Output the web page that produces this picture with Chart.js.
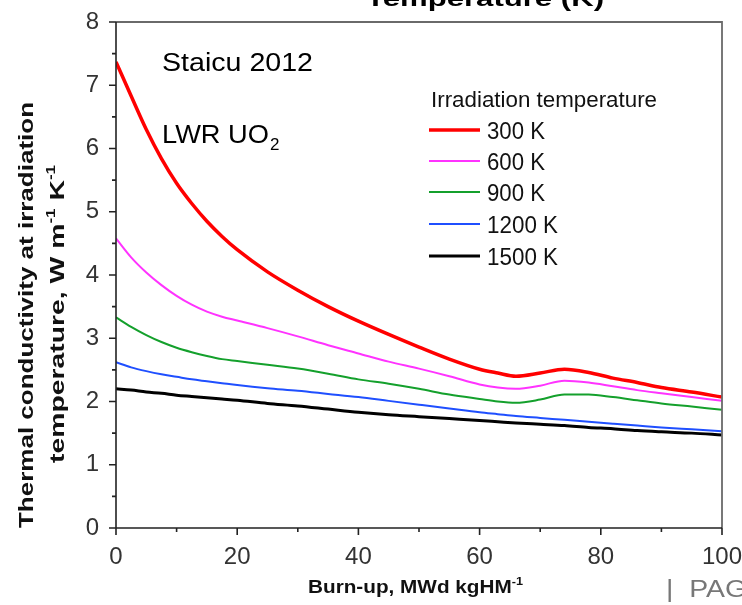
<!DOCTYPE html>
<html>
<head>
<meta charset="utf-8">
<script src="https://cdn.jsdelivr.net/npm/chart.js@4.4.1/dist/chart.umd.min.js"></script>
<style>
  html, body { margin: 0; padding: 0; background: #fff; }
  #wrap { width: 742px; height: 605px; }
</style>
</head>
<body>
<div id="wrap"><canvas id="kChart" width="742" height="605"></canvas></div>
<script>
// burn-up points (MWd/kgHM)
const burnup = [0, 2.5, 5, 7.5, 10, 12.5, 15, 17.5, 20, 25, 30, 35, 40, 45, 50, 55, 60, 63, 66, 70, 74, 78, 82, 86, 90, 95, 100];

// thermal conductivity at irradiation temperature (W/m/K)
const k300 = [7.37, 6.83, 6.30, 5.84, 5.45, 5.13, 4.85, 4.61, 4.40, 4.05, 3.76, 3.50, 3.27, 3.06, 2.86, 2.67, 2.51, 2.45, 2.40, 2.45, 2.51, 2.46, 2.37, 2.30, 2.22, 2.15, 2.07];
const k600 = [4.58, 4.28, 4.04, 3.84, 3.67, 3.53, 3.42, 3.34, 3.28, 3.16, 3.03, 2.89, 2.76, 2.63, 2.52, 2.40, 2.27, 2.22, 2.20, 2.25, 2.33, 2.30, 2.24, 2.18, 2.13, 2.07, 2.01];
const k900 = [3.33, 3.18, 3.05, 2.94, 2.85, 2.78, 2.72, 2.67, 2.64, 2.58, 2.52, 2.44, 2.35, 2.28, 2.20, 2.11, 2.04, 2.00, 1.98, 2.03, 2.11, 2.11, 2.07, 2.02, 1.97, 1.92, 1.87];
const k1200 = [2.62, 2.54, 2.48, 2.43, 2.39, 2.35, 2.32, 2.29, 2.26, 2.21, 2.17, 2.12, 2.07, 2.01, 1.95, 1.89, 1.83, 1.80, 1.77, 1.74, 1.71, 1.68, 1.65, 1.62, 1.59, 1.56, 1.53];
const k1500 = [2.20, 2.18, 2.15, 2.13, 2.10, 2.08, 2.06, 2.04, 2.02, 1.97, 1.93, 1.88, 1.83, 1.79, 1.76, 1.73, 1.70, 1.68, 1.66, 1.64, 1.62, 1.59, 1.57, 1.54, 1.52, 1.50, 1.47];

const seriesLabels = ['300 K', '600 K', '900 K', '1200 K', '1500 K'];
const xTicks = [0, 20, 40, 60, 80, 100];
const yTicks = [0, 1, 2, 3, 4, 5, 6, 7, 8];

const FONT = 'Liberation Sans, Arial, Helvetica, sans-serif';

function pts(ys) {
    return burnup.map((b, i) => ({ x: b, y: ys[i] }));
}

// draw text squeezed/stretched to a given width
function fitText(ctx, text, x, y, width, font, color) {
    ctx.save();
    ctx.font = font;
    ctx.fillStyle = color || '#000';
    ctx.textBaseline = 'alphabetic';
    ctx.textAlign = 'left';
    const w = ctx.measureText(text).width;
    const s = width ? width / w : 1;
    ctx.translate(x, y);
    ctx.scale(s, 1);
    ctx.fillText(text, 0, 0);
    ctx.restore();
    return w * s;
}

// text with small superscripts
function richWidth(ctx, parts) {
    let w = 0;
    parts.forEach(p => { ctx.font = p.font; w += ctx.measureText(p.t).width; });
    return w;
}
function drawRich(ctx, parts, x, y) {
    let cx = x;
    parts.forEach(p => {
        ctx.font = p.font;
        ctx.fillText(p.t, cx, y + (p.dy || 0));
        cx += ctx.measureText(p.t).width;
    });
}

const framePlugin = {
    id: 'frame',
    afterDraw(chart) {
        const ctx = chart.ctx;
        const a = chart.chartArea;
        const xs = chart.scales.x, ys = chart.scales.y;
        ctx.save();

        // top + right border (grey)
        ctx.strokeStyle = '#6a6a6a';
        ctx.lineWidth = 1.8;
        ctx.beginPath();
        ctx.moveTo(a.left, a.top);
        ctx.lineTo(a.right, a.top);
        ctx.lineTo(a.right, a.bottom);
        ctx.stroke();

        // left + bottom axes with outward ticks
        ctx.strokeStyle = '#222';
        ctx.lineWidth = 1.6;
        ctx.beginPath();
        ctx.moveTo(a.left, a.top);
        ctx.lineTo(a.left, a.bottom);
        ctx.lineTo(a.right, a.bottom);
        for (let v = 0; v <= 100; v += 10) {
            const px = xs.getPixelForValue(v);
            const len = v % 20 === 0 ? 7 : 4;
            ctx.moveTo(px, a.bottom);
            ctx.lineTo(px, a.bottom + len);
        }
        for (let v = 0; v <= 8; v += 0.5) {
            const py = ys.getPixelForValue(v);
            const len = v % 1 === 0 ? 7 : 4;
            ctx.moveTo(a.left, py);
            ctx.lineTo(a.left - len, py);
        }
        ctx.stroke();

        ctx.fillStyle = '#000';
        ctx.textBaseline = 'alphabetic';

        // annotations
        fitText(ctx, 'Staicu 2012', 162, 71, 151, '25px ' + FONT, '#000');
        const lwrW = fitText(ctx, 'LWR UO', 162, 143, 107, '25px ' + FONT, '#000');
        ctx.font = '17px ' + FONT;
        ctx.fillStyle = '#000';
        ctx.fillText('2', 162 + lwrW + 1, 150);

        // legend
        fitText(ctx, 'Irradiation temperature', 431, 107, 226, '22px ' + FONT, '#111');
        const rows = [130, 161, 192, 224, 256];
        chart.data.datasets.forEach((ds, i) => {
            ctx.strokeStyle = ds.borderColor;
            ctx.lineWidth = ds.borderWidth;
            ctx.beginPath();
            ctx.moveTo(429, rows[i]);
            ctx.lineTo(480, rows[i]);
            ctx.stroke();
            const tw = ds.label.length === 5 ? 58 : 71;
            fitText(ctx, ds.label, 487, rows[i] + 9, tw, '23px ' + FONT, '#111');
        });

        // y-axis title (two lines, rotated)
        ctx.save();
        ctx.fillStyle = '#111';
        ctx.translate(33, 315);
        ctx.rotate(-Math.PI / 2);
        const l1 = [{ t: 'Thermal conductivity at irradiation', font: 'bold 20px ' + FONT }];
        const w1 = richWidth(ctx, l1);
        ctx.scale(426 / w1, 1);
        drawRich(ctx, l1, -w1 / 2, 0);
        ctx.restore();

        ctx.save();
        ctx.fillStyle = '#111';
        ctx.translate(64, 314);
        ctx.rotate(-Math.PI / 2);
        const sup = 'bold 12px ' + FONT;
        const l2 = [
            { t: 'temperature, W m', font: 'bold 20px ' + FONT },
            { t: '-1', font: sup, dy: -9 },
            { t: ' K', font: 'bold 20px ' + FONT },
            { t: '-1', font: sup, dy: -9 }
        ];
        const w2 = richWidth(ctx, l2);
        ctx.scale(298 / w2, 1);
        drawRich(ctx, l2, -w2 / 2, 0);
        ctx.restore();

        // x-axis title
        ctx.save();
        ctx.fillStyle = '#111';
        const l3 = [
            { t: 'Burn-up, MWd kgHM', font: 'bold 18px ' + FONT },
            { t: '-1', font: 'bold 11px ' + FONT, dy: -8 }
        ];
        const w3 = richWidth(ctx, l3);
        ctx.translate(308, 593);
        ctx.scale(215 / w3, 1);
        drawRich(ctx, l3, 0, 0);
        ctx.restore();

        // bits of the surrounding slide
        fitText(ctx, 'Temperature (K)', 366, 6, 238, 'bold 22px ' + FONT, '#000');
        fitText(ctx, '|  PAGE', 666, 597, 100, '23px ' + FONT, '#777');

        ctx.restore();
    }
};

const ctxK = document.getElementById('kChart').getContext('2d');
const kChart = new Chart(ctxK, {
    type: 'line',
    data: {
        datasets: [
            { label: seriesLabels[0], data: pts(k300), borderColor: '#ff0000', borderWidth: 3.5 },
            { label: seriesLabels[1], data: pts(k600), borderColor: '#ff33ff', borderWidth: 2 },
            { label: seriesLabels[2], data: pts(k900), borderColor: '#14a02c', borderWidth: 2 },
            { label: seriesLabels[3], data: pts(k1200), borderColor: '#1f4fff', borderWidth: 2 },
            { label: seriesLabels[4], data: pts(k1500), borderColor: '#000000', borderWidth: 3 }
        ]
    },
    options: {
        responsive: false,
        animation: false,
        devicePixelRatio: 1,
        layout: { padding: { top: 22, right: 20, left: 0, bottom: 0 } },
        elements: {
            point: { radius: 0 },
            line: { cubicInterpolationMode: 'monotone', fill: false }
        },
        plugins: {
            legend: { display: false },
            tooltip: { enabled: false }
        },
        scales: {
            x: {
                type: 'linear',
                min: 0,
                max: 100,
                afterBuildTicks: s => { s.ticks = xTicks.map(v => ({ value: v })); },
                afterFit: s => { s.height = 77; s.paddingLeft = 0; s.paddingRight = 0; },
                grid: { drawOnChartArea: false, tickLength: 7, tickColor: 'transparent' },
                border: { display: false },
                ticks: { font: { family: FONT, size: 24 }, color: '#333', padding: 8 }
            },
            y: {
                min: 0,
                max: 8,
                afterBuildTicks: s => { s.ticks = yTicks.map(v => ({ value: v })); },
                afterFit: s => { s.width = 116; s.paddingTop = 0; s.paddingBottom = 0; },
                grid: { drawOnChartArea: false, tickLength: 7, tickColor: 'transparent' },
                border: { display: false },
                ticks: { font: { family: FONT, size: 24 }, color: '#333', padding: 10 }
            }
        }
    },
    plugins: [framePlugin]
});
</script>
</body>
</html>
